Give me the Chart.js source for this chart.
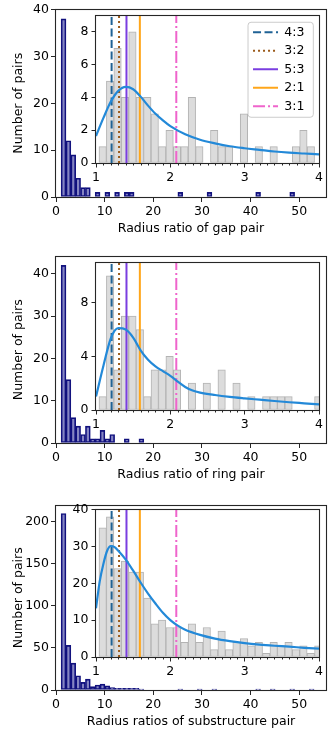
<!DOCTYPE html>
<html><head><meta charset="utf-8">
<script src="https://cdn.jsdelivr.net/npm/chart.js@4.4.1/dist/chart.umd.min.js"></script>
<style>
html,body{margin:0;padding:0;background:#fff;}
#wrap{position:relative;width:330px;height:750px;overflow:hidden;background:#fff;}
canvas{position:absolute;}
</style></head><body><div id="wrap"></div>
<script>
// ---------------- DATA ----------------
const MAIN_BIN_START = 1.05, MAIN_BIN_WIDTH = 1.0;   // main histogram bins
const INSET_BIN_START = 1.04, INSET_BIN_WIDTH = 0.1; // inset histogram bins

const gapMainCounts  = [38,12,9,4,2,2,0,1,0,1,0,1,0,1,1,0, 0,0,0,0,0,0,0,0, 1, 0,0,0,0,0, 1, 0,0,0,0,0,0,0,0,0, 1, 0,0,0,0,0,0, 1, 0,0,0,0];
const ringMainCounts = [42,15,6,4,2,4,1,1,3,1,2,0,0,1,0,0, 1,0,0,0,0,0,0,0, 0, 0,0,0,0,0, 0, 0,0,0,0,0,0,0,0,0, 0, 0,0,0,0,0,0, 0, 0,0,0,0];
const subMainCounts  = [210,53,32,17,9,13,4,6,7,5,3,2,2,2,2,2, 1,0,0,0,0,0,0,0, 1, 0,0,0,1,0, 0, 1,0,0,0,0,0,0,0,0, 1, 0,0,1,0,0,0, 1, 0,0,0,1];

const gapInsetCounts  = [1,5,7,4,8,4,4,3,1,2,1,1,4,1,0,2,1,1,0,3,0,1,0,1,0,0,1,2,1,0];
const ringInsetCounts = [1,10,3,7,7,6,1,3,3,4,3,0,2,0,2,0,3,0,2,0,1,0,1,1,1,1,0,0,0,1];
const subInsetCounts  = [35,38,24,26,23,23,16,9,10,8,8,4,9,4,8,2,7,2,4,5,3,4,1,4,3,4,2,3,1,3];

const gapKdeX  = [1.0,1.1,1.2,1.3,1.4,1.5,1.6,1.7,1.8,1.9,2.0,2.2,2.4,2.6,2.8,3.0,3.2,3.4,3.6,3.8,4.0];
const gapKdeY  = [1.65,2.75,3.75,4.4,4.64,4.5,4.05,3.5,3.0,2.6,2.25,1.75,1.42,1.2,1.02,0.9,0.8,0.7,0.63,0.58,0.53];
const ringKdeX = [1.0,1.1,1.2,1.3,1.4,1.5,1.6,1.7,1.8,1.9,2.0,2.1,2.2,2.3,2.4,2.6,2.8,3.0,3.2,3.4,3.6,3.8,4.0];
const ringKdeY = [1.0,3.3,5.35,6.1,6.0,5.4,4.45,3.75,3.25,2.9,2.55,2.12,1.72,1.45,1.3,1.12,0.98,0.87,0.77,0.67,0.58,0.5,0.42];
const subKdeX  = [1.0,1.05,1.1,1.15,1.2,1.25,1.3,1.4,1.5,1.6,1.7,1.8,1.9,2.0,2.1,2.2,2.4,2.6,2.8,3.0,3.2,3.4,3.6,3.8,4.0];
const subKdeY  = [13.2,20.5,25.3,28.8,30.1,29.8,28.8,26.4,23.4,20.2,17.2,14.5,12,10,8.5,7.4,6,5,4.3,3.75,3.35,3.05,2.8,2.5,2.25];

const resonanceLabels = ['4:3','3:2','5:3','2:1','3:1'];
const resonanceRatios = [1.21,1.31,1.41,1.59,2.08];

const xTitles = ['Radius ratio of gap pair','Radius ratio of ring pair','Radius ratios of substructure pair'];
const yTitle = 'Number of pairs';
const mainXTicks = [0,10,20,30,40,50];
const mainYTicks = [[0,10,20,30,40],[0,10,20,30,40],[0,50,100,150,200]];
const insetXTicks = [1,2,3,4];
const insetYTicks = [[0,2,4,6,8],[0,4,8],[0,10,20,30,40]];
const mainYMax = [40,44.1,219.5];
const insetYMax = [9,11,40];

// ---------------- STYLE / LAYOUT ----------------
Chart.defaults.font.family = "'DejaVu Sans', sans-serif";
Chart.defaults.font.size = 12.5;
Chart.defaults.color = '#000';

const resStyles = [
  {color:'#1f6295', dash:[8,3.5]},
  {color:'#9b5a1a', dash:[2,3]},
  {color:'#7a3ee0', dash:[]},
  {color:'#ffa61a', dash:[]},
  {color:'#ef64cc', dash:[12,3,2,3]}
];
const AXIS_COLOR = '#262626';
const GEOM = [
  {top:0,   areaTop:7,   areaBottom:197, insetTop:13,  insetBottom:163},
  {top:247, areaTop:254, areaBottom:443, insetTop:260, insetBottom:410},
  {top:496, areaTop:503, areaBottom:690, insetTop:507, insetBottom:657}
];
const PANELS = [
  {main:gapMainCounts,  inset:gapInsetCounts,  kx:gapKdeX,  ky:gapKdeY,  legend:true},
  {main:ringMainCounts, inset:ringInsetCounts, kx:ringKdeX, ky:ringKdeY, legend:false},
  {main:subMainCounts,  inset:subInsetCounts,  kx:subKdeX,  ky:subKdeY,  legend:false}
];

const framePlugin = {
  id: 'frame',
  beforeDraw(chart, args, opts) {
    const ctx = chart.ctx, a = chart.chartArea;
    ctx.save();
    if (opts.fill) {
      ctx.fillStyle = '#fff';
      ctx.fillRect(a.left, a.top, a.right - a.left, a.bottom - a.top);
    }
    const L = chart.legend;
    if (opts.legendBox && L && L.options.display) {
      const x = L.left + 1, y = L.top + 2.25, w = 65.3, h = 95, r = 3;
      ctx.beginPath();
      ctx.moveTo(x + r, y); ctx.lineTo(x + w - r, y); ctx.arcTo(x + w, y, x + w, y + r, r);
      ctx.lineTo(x + w, y + h - r); ctx.arcTo(x + w, y + h, x + w - r, y + h, r);
      ctx.lineTo(x + r, y + h); ctx.arcTo(x, y + h, x, y + h - r, r);
      ctx.lineTo(x, y + r); ctx.arcTo(x, y, x + r, y, r); ctx.closePath();
      ctx.fillStyle = 'rgba(255,255,255,0.8)'; ctx.fill();
      ctx.strokeStyle = '#cccccc'; ctx.lineWidth = 1; ctx.stroke();
    }
    ctx.restore();
  },
  afterDatasetsDraw(chart, args, opts) {
    const ctx = chart.ctx, a = chart.chartArea;
    ctx.save();
    ctx.strokeStyle = AXIS_COLOR; ctx.lineWidth = 1.1;
    ctx.strokeRect(Math.round(a.left) - 0.5, Math.round(a.top) - 0.5,
                   Math.round(a.right) - Math.round(a.left) + 1, Math.round(a.bottom) - Math.round(a.top) + 1);
    if (opts.minor) {
      const sx = chart.scales.x;
      ctx.lineWidth = 1;
      for (let i = 1; i < 30; i++) {
        if (i % 10 === 0) continue;
        const v = 1 + i * 0.1;
        const px = Math.round(sx.getPixelForValue(v)) + 0.5;
        ctx.beginPath(); ctx.moveTo(px, Math.round(a.bottom)); ctx.lineTo(px, Math.round(a.bottom) + 2.5); ctx.stroke();
      }
    }
    ctx.restore();
  }
};
const legendPlace = {
  id: 'legendPlace',
  afterLayout(chart) {
    const L = chart.legend;
    if (!L || !L.options.display) return;
    const a = chart.chartArea;
    L.left = a.right - 72; L.right = a.right;
    L.top = a.top + 4.5; L.bottom = a.bottom;
  }
};

const wrap = document.getElementById('wrap');
function mkCanvas(left, top, w, h) {
  const c = document.createElement('canvas');
  c.width = w; c.height = h;
  c.style.left = left + 'px'; c.style.top = top + 'px';
  c.style.width = w + 'px'; c.style.height = h + 'px';
  wrap.appendChild(c);
  return c;
}
function tickSetter(list) { return s => { s.ticks = list.map(v => ({value: v})); }; }

PANELS.forEach((p, k) => {
  const g = GEOM[k];
  // ---- main histogram ----
  const H = g.areaBottom + 49 - g.top;
  const cm = mkCanvas(0, g.top, 330, H);
  new Chart(cm, {
    type: 'bar',
    data: { datasets: [{
      data: p.main.map((c, i) => ({x: MAIN_BIN_START + MAIN_BIN_WIDTH * (i + 0.5), y: c})),
      backgroundColor: 'rgba(0,0,128,0.48)', borderColor: '#14147e', borderWidth: 1,
      borderSkipped: false, barPercentage: 1, categoryPercentage: 1, grouped: false
    }]},
    options: {
      responsive: false, animation: false, events: [],
      layout: { padding: { top: g.areaTop - g.top, right: 4, left: 0, bottom: 0 } },
      plugins: { legend: {display: false}, tooltip: {enabled: false}, frame: {} },
      scales: {
        x: { type: 'linear', min: 0, max: 55.5, offset: false,
             grid: {display: true, drawOnChartArea: false, drawTicks: true, tickLength: 5, color: AXIS_COLOR, offset: false},
             border: {display: false},
             ticks: {padding: 2, maxRotation: 0, autoSkip: false},
             afterBuildTicks: tickSetter(mainXTicks),
             title: {display: true, text: xTitles[k], padding: {top: 0, bottom: 9.5}},
             afterFit: s => { s.height = 49; } },
        y: { min: 0, max: mainYMax[k],
             grid: {display: true, drawOnChartArea: false, drawTicks: true, tickLength: 5, color: AXIS_COLOR},
             border: {display: false},
             ticks: {padding: 2, autoSkip: false},
             afterBuildTicks: tickSetter(mainYTicks[k]),
             title: {display: true, text: yTitle, padding: {top: 11, bottom: 0}},
             afterFit: s => { s.width = 56; } }
      }
    },
    plugins: [framePlugin]
  });

  // ---- inset histogram ----
  const iTop = g.insetTop - 8;
  const iH = g.insetBottom - iTop + 27;
  const ci = mkCanvas(60, iTop, 266, iH);
  const ds = [{
    type: 'bar', order: 3, clip: 0,
    data: p.inset.map((c, i) => ({x: INSET_BIN_START + INSET_BIN_WIDTH * (i + 0.5), y: c})),
    backgroundColor: '#dcdcdc', borderColor: '#b3b3b3', borderWidth: 1,
    borderSkipped: false, barPercentage: 1, categoryPercentage: 1, grouped: false
  }];
  resonanceRatios.forEach((r, j) => ds.push({
    type: 'line', order: 2, clip: 0, resonance: true, label: resonanceLabels[j],
    data: [{x: r, y: 0}, {x: r, y: insetYMax[k]}],
    borderColor: resStyles[j].color, borderDash: resStyles[j].dash, borderWidth: 2,
    pointRadius: 0, fill: false
  }));
  ds.push({
    type: 'line', order: 1, clip: 0,
    data: p.kx.map((x, i) => ({x: x, y: p.ky[i]})),
    borderColor: '#2389d8', borderWidth: 2.2, pointRadius: 0, fill: false,
    cubicInterpolationMode: 'monotone'
  });
  new Chart(ci, {
    type: 'bar',
    data: { datasets: ds },
    options: {
      responsive: false, animation: false, events: [],
      layout: { padding: { top: 8, right: 6, left: 0, bottom: 0 } },
      plugins: {
        tooltip: {enabled: false},
        frame: {fill: true, minor: true, legendBox: p.legend},
        legend: {
          display: p.legend, position: 'chartArea', align: 'start',
          labels: {
            usePointStyle: true, pointStyleWidth: 25, padding: 6, color: '#000',
            font: {size: 12.5},
            generateLabels: chart => chart.data.datasets
              .map((d, i) => ({d, i}))
              .filter(o => o.d.resonance)
              .map(o => ({
                text: o.d.label, datasetIndex: o.i, hidden: false,
                strokeStyle: o.d.borderColor, fillStyle: o.d.borderColor,
                lineWidth: 2, lineDash: o.d.borderDash, lineCap: 'butt',
                pointStyle: 'line', fontColor: '#000'
              }))
          }
        }
      },
      scales: {
        x: { type: 'linear', min: 1, max: 4, offset: false,
             grid: {display: true, drawOnChartArea: false, drawTicks: true, tickLength: 4.5, color: AXIS_COLOR, offset: false},
             border: {display: false},
             ticks: {padding: 3, maxRotation: 0, autoSkip: false},
             afterBuildTicks: tickSetter(insetXTicks),
             afterFit: s => { s.height = 27; } },
        y: { min: 0, max: insetYMax[k],
             grid: {display: true, drawOnChartArea: false, drawTicks: true, tickLength: 4.5, color: AXIS_COLOR},
             border: {display: false},
             ticks: {padding: 3, autoSkip: false},
             afterBuildTicks: tickSetter(insetYTicks[k]),
             afterFit: s => { s.width = 36; } }
      }
    },
    plugins: [framePlugin, legendPlace]
  });
});
</script>
</body></html>
